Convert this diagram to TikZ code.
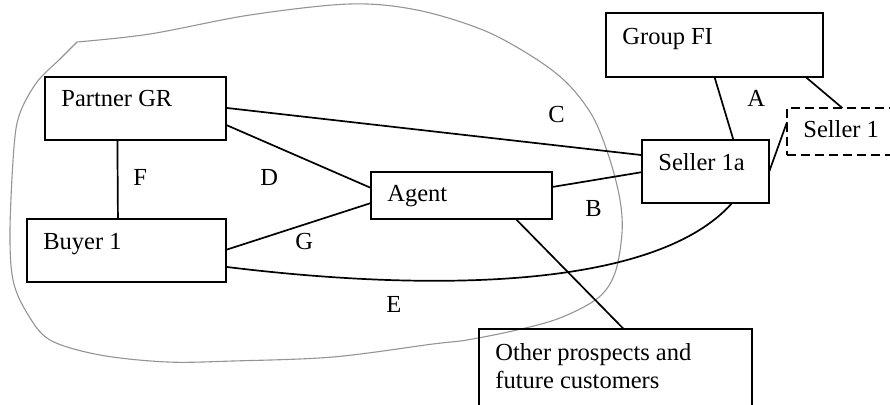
\documentclass[tikz,border=0pt]{standalone}
\usepackage{fontspec}
\setmainfont{Liberation Serif}
\usetikzlibrary{calc}
\begin{document}
\begin{tikzpicture}[x=0.5pt,y=-0.5pt,
  box/.style={draw, line width=0.85pt, rectangle, anchor=north west, inner sep=0pt, outer sep=0pt},
  dbox/.style={box, dash pattern=on 4.5pt off 2.5pt},
  txt/.style={anchor=base west, inner sep=0pt, font=\fontsize{12.25}{14}\selectfont},
  conn/.style={line width=0.85pt},
  blob/.style={draw=black!42, line width=0.55pt}]
\useasboundingbox (0,0) rectangle (890,405);

% enclosing blob (with a small kink at its top-left)
\draw[blob] plot[smooth, tension=0.55] coordinates {
  (77,42) (150,34) (250,15) (350,4) (417,10) (483,30) (533,57) (567,83)
  (593,117) (610,160) (620,200) (622,233) (615,273) (598,298) (560,318)
  (517,330) (467,340) (433,344) (333,357) (233,361) (167,362) (100,355)
  (50,340) (27,313) (13,280) (10,230) (14,147) (20,113) (37,82) (60,59) (77,42)};

% boxes
\node[box, minimum width=90.5pt, minimum height=31.5pt] (pgr) at (45,77) {};
\node[box, minimum width=99.5pt, minimum height=31.5pt] (b1) at (27,219) {};
\node[box, minimum width=90.5pt, minimum height=23.5pt] (ag) at (371,172) {};
\node[box, minimum width=108.5pt, minimum height=32pt] (gfi) at (606,13) {};
\node[box, minimum width=63.5pt, minimum height=31.5pt] (s1a) at (642,140) {};
\node[dbox, minimum width=61.5pt, minimum height=23.5pt] (s1) at (787,108) {};
\node[box, minimum width=136.5pt, minimum height=48pt] (op) at (479,329) {};

% box texts
\node[txt] (tpgr) at (61,107) {Partner GR};
\node[txt] (tb1) at (43,250) {Buyer 1};
\node[txt] (tag) at (387,202) {Agent};
\node[txt] (tgfi) at (622,45) {Group FI};
\node[txt] (ts1a) at (658,171) {Seller 1a};
\node[txt] (ts1) at (803,138) {Seller 1};
\node[txt, anchor=north west, align=left] (top) at (495,343) {Other prospects and\\future customers};

% connectors
\draw[conn] ($(pgr.north east)!0.49!(pgr.south east)$) -- ($(s1a.north west)!0.24!(s1a.south west)$);
\draw[conn] ($(pgr.north east)!0.76!(pgr.south east)$) -- ($(ag.north west)!0.34!(ag.south west)$);
\draw[conn] ($(pgr.south west)!0.40!(pgr.south east)$) -- ($(b1.north west)!0.457!(b1.north east)$);
\draw[conn] ($(b1.north east)!0.49!(b1.south east)$) -- ($(ag.north west)!0.66!(ag.south west)$);
\draw[conn] ($(ag.north east)!0.32!(ag.south east)$) -- ($(s1a.north west)!0.51!(s1a.south west)$);
\draw[conn] ($(gfi.south west)!0.50!(gfi.south east)$) -- ($(s1a.north west)!0.72!(s1a.north east)$);
\draw[conn] ($(gfi.south west)!0.92!(gfi.south east)$) -- ($(s1.north west)!0.45!(s1.north east)$);
\draw[conn] ($(s1a.north east)!0.51!(s1a.south east)$) -- ($(s1.north west)!0.30!(s1.south west)$);
\draw[conn] ($(b1.north east)!0.76!(b1.south east)$) .. controls (430,292) and (655,290) .. ($(s1a.south west)!0.71!(s1a.south east)$);
\draw[conn] ($(ag.south west)!0.80!(ag.south east)$) -- ($(op.north west)!0.53!(op.north east)$);

% connector labels
\node[txt] (la) at (747,107) {A};
\node[txt] (lb) at (585,217) {B};
\node[txt] (lc) at (548,123) {C};
\node[txt] (ld) at (260,186) {D};
\node[txt] (le) at (386,313) {E};
\node[txt] (lf) at (133,186) {F};
\node[txt] (lg) at (295,250) {G};
\end{tikzpicture}
\end{document}
